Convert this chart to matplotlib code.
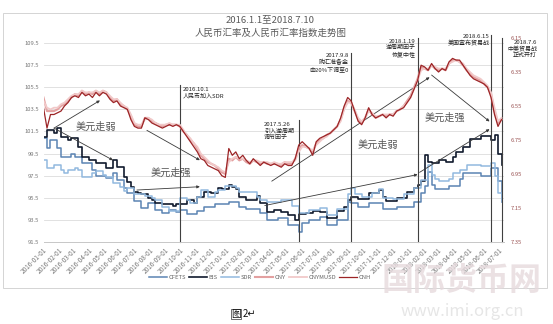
import matplotlib
matplotlib.use("Agg")
import matplotlib.pyplot as plt
import matplotlib.dates as mdates
from matplotlib.patches import Rectangle
import pandas as pd

plt.rcParams["font.family"] = ["Noto Sans CJK SC", "DejaVu Sans"]

# weekly observations, 2016-01-01 .. 2018-07-06
weeks = pd.date_range("2016-01-01", "2018-07-10", freq="7D")
month_ticks = pd.date_range("2016-01-01", "2018-07-01", freq="MS")

# RMB index series (left axis)
cfets = [100.9, 100.0, 100.7, 100.7, 100.0, 99.2, 99.2, 99.2, 99.5, 99.2,
         99.2, 98.6, 98.6, 98.6, 98.0, 97.5, 97.5, 97.5, 97.3, 97.3,
         97.7, 97.1, 97.1, 96.4, 95.9, 95.9, 95.2, 95.2, 94.6, 94.6,
         95.0, 95.0, 94.4, 94.4, 94.1, 94.1, 94.4, 94.4, 94.2, 94.4,
         94.4, 94.0, 94.0, 94.0, 94.3, 94.3, 94.7, 94.7, 94.7, 94.9,
         94.9, 94.9, 94.9, 95.1, 95.1, 95.1, 94.7, 94.7, 94.5, 94.5,
         94.5, 94.5, 94.1, 94.1, 93.5, 93.5, 93.5, 93.7, 93.7, 93.7,
         93.0, 93.0, 93.0, 92.4, 93.2, 93.2, 93.5, 93.5, 93.5, 93.8,
         93.8, 93.0, 93.0, 93.0, 93.5, 93.5, 93.5, 95.1, 95.0, 95.0,
         94.7, 94.7, 94.7, 95.0, 95.0, 95.0, 95.0, 94.5, 94.5, 94.5,
         94.5, 94.7, 94.7, 94.7, 94.7, 94.7, 95.1, 95.1, 95.9, 96.6,
         97.8, 96.7, 96.3, 96.3, 96.3, 96.3, 96.6, 96.6, 96.6, 97.2,
         97.7, 97.7, 97.7, 97.7, 97.7, 97.5, 97.5, 97.5, 98.2, 98.2,
         97.0, 95.1]
bis = [101.0, 101.6, 101.6, 101.4, 101.8, 101.0, 101.0, 100.7, 100.9, 100.9,
       100.1, 99.2, 99.2, 98.9, 98.9, 98.6, 98.6, 98.6, 98.2, 98.2,
       98.9, 98.3, 98.3, 97.4, 96.9, 96.5, 96.0, 95.9, 95.8, 95.8,
       95.5, 95.3, 95.0, 95.0, 94.9, 94.9, 94.9, 94.8, 94.9, 94.9,
       94.9, 95.3, 95.3, 95.0, 95.6, 95.6, 96.0, 96.0, 95.9, 95.9,
       96.4, 96.3, 96.3, 96.7, 96.5, 96.3, 95.6, 95.6, 95.3, 95.3,
       95.3, 95.7, 95.0, 95.0, 94.2, 94.2, 94.4, 94.4, 94.2, 94.2,
       93.9, 93.9, 93.5, 94.0, 94.0, 94.1, 94.1, 94.3, 94.3, 94.2,
       94.2, 93.7, 93.7, 93.7, 94.3, 94.3, 94.7, 95.3, 95.6, 95.6,
       95.4, 95.4, 95.4, 95.9, 95.9, 95.9, 96.2, 95.6, 95.2, 95.2,
       95.2, 95.5, 95.5, 95.5, 96.0, 96.0, 96.4, 96.7, 97.0, 99.4,
       98.7, 98.6, 98.6, 98.9, 98.9, 98.7, 98.7, 99.2, 99.6, 99.6,
       100.1, 100.1, 100.8, 100.8, 100.8, 101.1, 101.1, 101.1, 100.7, 101.2,
       99.5, 98.5]
sdr = [98.9, 98.2, 98.2, 98.5, 98.5, 98.0, 97.7, 98.0, 98.0, 98.2,
       98.0, 97.4, 97.4, 97.4, 97.7, 97.9, 97.9, 97.6, 97.4, 97.4,
       96.8, 96.8, 96.5, 96.1, 96.4, 96.4, 95.8, 95.8, 95.8, 95.7,
       95.7, 95.5, 95.3, 95.3, 94.7, 94.7, 94.3, 94.3, 94.3, 95.5,
       95.5, 95.3, 95.0, 95.0, 95.6, 96.2, 96.2, 95.6, 95.6, 96.0,
       96.2, 96.2, 96.6, 96.6, 96.6, 96.4, 96.0, 96.0, 96.0, 96.0,
       96.0, 95.6, 95.3, 95.3, 95.1, 95.1, 95.1, 95.1, 95.3, 95.3,
       95.3, 94.8, 94.8, 94.1, 94.1, 94.1, 94.4, 94.4, 94.4, 94.6,
       94.6, 93.9, 93.9, 93.9, 94.5, 94.5, 94.5, 95.8, 96.4, 95.8,
       95.8, 95.6, 95.6, 95.6, 95.9, 95.9, 96.3, 95.5, 95.5, 95.5,
       95.4, 95.4, 95.4, 95.8, 95.8, 95.8, 96.4, 96.4, 97.1, 97.1,
       98.5, 97.6, 97.2, 97.0, 97.0, 97.0, 97.2, 97.7, 97.7, 98.0,
       98.0, 98.5, 98.5, 98.5, 98.5, 98.4, 98.4, 98.4, 98.6, 97.5,
       95.9, 95.2]

# USD/RMB rates (right axis, inverted)
cny = [6.50, 6.58, 6.58, 6.58, 6.57, 6.55, 6.54, 6.52, 6.50, 6.48,
       6.49, 6.46, 6.48, 6.47, 6.48, 6.46, 6.48, 6.46, 6.47, 6.50,
       6.52, 6.51, 6.54, 6.55, 6.57, 6.61, 6.66, 6.67, 6.67, 6.62,
       6.62, 6.64, 6.65, 6.66, 6.67, 6.66, 6.66, 6.66, 6.66, 6.67,
       6.70, 6.72, 6.75, 6.77, 6.80, 6.84, 6.86, 6.88, 6.89, 6.90,
       6.92, 6.94, 6.95, 6.86, 6.87, 6.85, 6.87, 6.86, 6.88, 6.89,
       6.87, 6.88, 6.89, 6.88, 6.89, 6.89, 6.89, 6.89, 6.90, 6.88,
       6.89, 6.89, 6.86, 6.80, 6.78, 6.79, 6.80, 6.82, 6.77, 6.75,
       6.74, 6.72, 6.71, 6.69, 6.67, 6.63, 6.56, 6.52, 6.53, 6.58,
       6.63, 6.65, 6.62, 6.57, 6.60, 6.62, 6.61, 6.60, 6.61, 6.60,
       6.60, 6.58, 6.57, 6.55, 6.52, 6.49, 6.44, 6.39, 6.32, 6.33,
       6.34, 6.31, 6.33, 6.34, 6.33, 6.34, 6.30, 6.28, 6.28, 6.29,
       6.31, 6.34, 6.36, 6.38, 6.39, 6.40, 6.42, 6.44, 6.48, 6.58,
       6.65, 6.63]
cnymusd = [6.52, 6.56, 6.57, 6.56, 6.56, 6.54, 6.53, 6.51, 6.49, 6.48,
           6.48, 6.46, 6.47, 6.47, 6.47, 6.46, 6.47, 6.46, 6.47, 6.49,
           6.51, 6.51, 6.53, 6.55, 6.56, 6.60, 6.65, 6.66, 6.66, 6.63,
           6.62, 6.63, 6.65, 6.66, 6.66, 6.66, 6.65, 6.66, 6.66, 6.66,
           6.69, 6.72, 6.74, 6.77, 6.79, 6.83, 6.85, 6.87, 6.89, 6.90,
           6.91, 6.93, 6.94, 6.88, 6.86, 6.85, 6.86, 6.86, 6.87, 6.88,
           6.87, 6.87, 6.88, 6.88, 6.88, 6.89, 6.88, 6.89, 6.89, 6.88,
           6.88, 6.88, 6.87, 6.82, 6.79, 6.79, 6.80, 6.81, 6.78, 6.76,
           6.74, 6.73, 6.71, 6.69, 6.67, 6.64, 6.57, 6.53, 6.53, 6.57,
           6.62, 6.64, 6.62, 6.58, 6.59, 6.61, 6.61, 6.60, 6.60, 6.60,
           6.60, 6.58, 6.57, 6.55, 6.53, 6.50, 6.45, 6.40, 6.34, 6.33,
           6.33, 6.31, 6.32, 6.33, 6.33, 6.33, 6.30, 6.29, 6.28, 6.29,
           6.30, 6.33, 6.35, 6.37, 6.38, 6.39, 6.41, 6.43, 6.47, 6.56,
           6.64, 6.62]
cnh = [6.56, 6.68, 6.60, 6.60, 6.59, 6.58, 6.55, 6.53, 6.50, 6.49,
       6.50, 6.47, 6.49, 6.48, 6.50, 6.47, 6.49, 6.47, 6.48, 6.51,
       6.53, 6.52, 6.55, 6.56, 6.57, 6.63, 6.67, 6.68, 6.68, 6.62,
       6.63, 6.65, 6.66, 6.67, 6.68, 6.67, 6.66, 6.67, 6.66, 6.67,
       6.70, 6.73, 6.76, 6.79, 6.82, 6.86, 6.87, 6.90, 6.91, 6.92,
       6.93, 6.96, 6.97, 6.80, 6.84, 6.82, 6.86, 6.84, 6.87, 6.89,
       6.86, 6.88, 6.90, 6.88, 6.89, 6.90, 6.89, 6.90, 6.91, 6.89,
       6.90, 6.90, 6.86, 6.78, 6.76, 6.78, 6.80, 6.84, 6.76, 6.74,
       6.73, 6.72, 6.71, 6.69, 6.67, 6.62, 6.55, 6.50, 6.52, 6.58,
       6.64, 6.66, 6.62, 6.56, 6.60, 6.62, 6.61, 6.60, 6.62, 6.60,
       6.61, 6.58, 6.57, 6.56, 6.53, 6.50, 6.45, 6.40, 6.31, 6.32,
       6.34, 6.30, 6.33, 6.35, 6.33, 6.34, 6.29, 6.27, 6.28, 6.28,
       6.31, 6.34, 6.37, 6.39, 6.40, 6.41, 6.42, 6.44, 6.50, 6.60,
       6.67, 6.63]

# policy events: date, text
event_dates = ["2016-10-01", "2017-05-26", "2017-09-08", "2018-01-19", "2018-06-15", "2018-07-06"]
event_texts = ["2016.10.1\n人民币加入SDR",
               "2017.5.26\n引入逆周期\n调节因子",
               "2017.9.8\n购汇准备金\n由20%下调至0",
               "2018.1.19\n逆周期因子\n恢复中性",
               "2018.6.15\n美国宣布贸易战",
               "2018.7.6\n中美贸易战\n正式开打"]

W, H = 553, 324


def fx(x):
    return x / W


def fy(y):
    return 1 - y / H


fig = plt.figure(figsize=(W / 100, H / 100), dpi=100)
fig.patches.append(Rectangle((fx(3), fy(288)), fx(544), 275 / H, transform=fig.transFigure,
                             fill=False, ec="#d4d4d4", lw=0.7))

ax = fig.add_axes([fx(43.5), fy(242), fx(460), 204 / H])
ax2 = ax.twinx()

ax.plot(weeks, cfets, drawstyle="steps-post", color="#5b84b3", lw=1.1, label="CFETS")
ax.plot(weeks, bis, drawstyle="steps-post", color="#111a2e", lw=1.2, label="BIS")
ax.plot(weeks, sdr, drawstyle="steps-post", color="#92b9df", lw=1.1, label="SDR")
ax2.plot(weeks, cny, color="#e3a0a0", lw=1.5, label="CNY")
ax2.plot(weeks, cnymusd, color="#f1c9c9", lw=1.3, label="CNYMUSD")
ax2.plot(weeks, cnh, color="#9c2426", lw=0.9, label="CNH")

ax.set_xlim(pd.Timestamp("2016-01-01"), pd.Timestamp("2018-07-10"))
ax.set_ylim(91.5, 109.95)
ax2.set_ylim(7.35, 6.15)
ax.set_yticks([91.5 + 2 * i for i in range(10)])
ax.set_yticklabels(["%.1f" % (91.5 + 2 * i) for i in range(10)])
ax2.set_yticks([6.15 + 0.2 * i for i in range(7)])
ax2.set_yticklabels(["%.2f" % (6.15 + 0.2 * i) for i in range(7)])
ax.set_xticks(month_ticks)
ax.xaxis.set_major_formatter(mdates.DateFormatter("%Y-%m-%d"))
for lab in ax.get_xticklabels():
    lab.set_rotation(45)
    lab.set_ha("right")
    lab.set_rotation_mode("anchor")

ax.tick_params(axis="x", labelsize=4.6, colors="#777777", length=0, pad=3)
ax.tick_params(axis="y", labelsize=4.2, colors="#777777", length=0, pad=3)
ax2.tick_params(axis="y", labelsize=4.2, colors="#9b5555", length=0, pad=5)
ax.yaxis.grid(True, color="#dcdcdc", lw=0.6)
ax.set_axisbelow(True)
for a in (ax, ax2):
    for s in ("top", "left", "right"):
        a.spines[s].set_visible(False)
    a.spines["bottom"].set_color("#c8c8c8")
    a.spines["bottom"].set_linewidth(0.7)

# event lines and notes
line_tops = [105.7, 102.5, 108.6, 109.95, 110.2, 109.95]
text_pos = [(183, 87, "left"), (264, 122, "left"), (349, 53, "right"),
            (416, 39, "right"), (490, 34, "right"), (537, 40, "right")]
for d, top, txt, (tx, ty, ha) in zip(event_dates, line_tops, event_texts, text_pos):
    t = mdates.date2num(pd.Timestamp(d))
    ax.plot([t, t], [91.5, top], color="#404040", lw=0.8, clip_on=False, zorder=5)
    fig.text(fx(tx), fy(ty), txt, fontsize=4.3, color="#222222", ha=ha, va="top",
             multialignment=ha, linespacing=1.25)

# trend arrows (date, index value)
arrows = [(("2016-01-22", 101.8), ("2016-04-23", 104.3)),
          (("2016-01-22", 101.8), ("2016-05-19", 98.9)),
          (("2016-07-26", 101.6), ("2016-11-09", 98.9)),
          (("2016-07-06", 96.2), ("2016-11-09", 96.5)),
          (("2017-03-19", 94.8), ("2018-01-19", 97.6)),
          (("2017-04-02", 97.0), ("2018-02-12", 106.4)),
          (("2018-02-16", 106.6), ("2018-06-12", 102.4)),
          (("2018-01-23", 97.8), ("2018-06-12", 101.7))]
for (d0, v0), (d1, v1) in arrows:
    ax.annotate("", xy=(mdates.date2num(pd.Timestamp(d1)), v1),
                xytext=(mdates.date2num(pd.Timestamp(d0)), v0),
                arrowprops=dict(arrowstyle="-|>", color="#3a3a3a", lw=0.6,
                                mutation_scale=4, shrinkA=0, shrinkB=0), zorder=6)

trend_labels = [("2016-04-15", 101.9, "美元走弱"), ("2016-09-12", 97.8, "美元走强"),
                ("2017-10-31", 100.3, "美元走弱"), ("2018-03-14", 102.7, "美元走强")]
for d, v, txt in trend_labels:
    ax.text(mdates.date2num(pd.Timestamp(d)), v, txt, fontsize=7.3, color="#555555",
            ha="center", va="center", zorder=6)

fig.text(fx(270), fy(20), "2016.1.1至2018.7.10", fontsize=6.8, color="#5a5a5a",
         ha="center", va="center")
fig.text(fx(271), fy(33), "人民币汇率及人民币汇率指数走势图", fontsize=6.8, color="#5a5a5a",
         ha="center", va="center")

h1, l1 = ax.get_legend_handles_labels()
h2, l2 = ax2.get_legend_handles_labels()
fig.legend(h1 + h2, l1 + l2, loc="center", bbox_to_anchor=(fx(260), fy(277)), ncol=6,
           fontsize=4.2, frameon=False, handlelength=3.0, columnspacing=0.6,
           handletextpad=0.3, labelcolor="#666666")

# watermark of the source site
fig.text(fx(462), fy(281), "国际货币网", fontsize=23, color="#e6dadd", alpha=0.8,
         ha="center", va="center", fontweight="bold", style="italic", zorder=10)
fig.text(fx(462), fy(311), "www.imi.org.cn", fontsize=12, color="#e6e6e6",
         ha="center", va="center", zorder=10)

fig.text(fx(231), fy(314), "图", fontsize=7, color="#111111", ha="left", va="center",
         bbox=dict(boxstyle="square,pad=0.05", fc="none", ec="#333333", lw=0.5))
fig.text(fx(243), fy(314), "2↵", fontsize=7, color="#111111", ha="left", va="center")

fig.savefig("out.png", dpi=100)
